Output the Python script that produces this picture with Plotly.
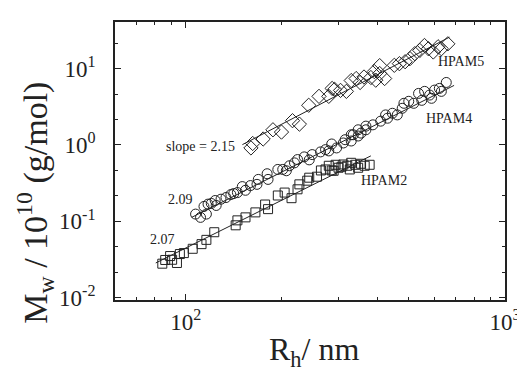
import math
import plotly.graph_objects as go

# ---------------- data ----------------
hpam5_rh = [160, 162, 174.7, 187.5, 199.4, 215.9, 226.9, 242.7, 261.4, 280.5, 287.4, 292.6,
            305.3, 318.5, 329.8, 341.7, 351.6, 361.6, 380, 389.4, 393.6, 405, 405, 419.6,
            450, 466.8, 486.5, 503.9, 521.9, 540.9, 559.3, 575.4, 596, 617, 631.8, 662]
hpam5_mw = [0.914, 1.046, 1.197, 1.58, 1.475, 2.08, 1.874, 3.31, 4.33, 4.33, 5.5, 5.34,
            5.18, 5.03, 6.98, 7.41, 6.58, 7.76, 7.64, 9.14, 7.05, 10.94, 8.61, 7.41,
            11.04, 11.6, 12.3, 13.5, 15.7, 17.3, 20.07, 18.2, 16.5, 19.3, 18.2, 21.1]

hpam4_rh = [107.3, 111.2, 116, 114, 117.4, 120.2, 123.6, 124.5, 128.9, 133.6, 138.4, 141.3,
            145.1, 150.3, 153.8, 159.4, 167.1, 168.7, 179.8, 181.0, 194.2, 201.2, 206.5,
            211.2, 219, 223.9, 235, 243.6, 248.8, 264.3, 274, 280.5, 286.5, 296.7, 311.6,
            315.6, 329.8, 329.8, 334.6, 346.7, 346.7, 354, 366.6, 366.6, 385.5, 407.9,
            422.6, 428.6, 443.8, 459.8, 476.4, 482.3, 499.4, 517.8, 536, 548.6, 560,
            580.6, 588.6, 601.6, 622.7, 631.8, 654.7]
hpam4_mw = [0.1244, 0.1127, 0.1244, 0.1566, 0.168, 0.1714, 0.1874, 0.1614, 0.195, 0.205,
            0.2243, 0.231, 0.238, 0.285, 0.255, 0.294, 0.305, 0.354, 0.42, 0.354, 0.478,
            0.478, 0.4596, 0.534, 0.583, 0.644, 0.698, 0.638, 0.748, 0.811, 0.869, 0.836,
            1.03, 0.914, 1.062, 1.172, 1.127, 1.36, 1.36, 1.58, 1.31, 1.43, 1.58, 1.765,
            1.835, 2.05, 2.475, 2.24, 2.60, 2.475, 3.02, 3.51, 3.73, 3.51, 4.73, 3.84,
            5.03, 4.50, 4.08, 5.23, 5.50, 5.03, 6.58]

hpam2_rh = [84.4, 86.2, 89.3, 90.6, 93.8, 95.8, 98.6, 105.1, 112, 116, 122.8, 143.3, 145.1,
            153.8, 165.2, 177.2, 181, 194.2, 204.0, 214.4, 223.9, 226.9, 240.1, 243.6,
            257.6, 265, 274, 280.5, 286.5, 290.5, 294.6, 301, 307.4, 311.6, 320.6, 326.4,
            329.8, 339.5, 346.7, 354, 363.4, 376.6]
hpam2_mw = [0.0279, 0.0312, 0.0351, 0.0314, 0.0285, 0.0373, 0.0384, 0.0437, 0.0503, 0.0572,
            0.0720, 0.0887, 0.103, 0.1127, 0.131, 0.166, 0.1445, 0.218, 0.238, 0.201,
            0.2627, 0.305, 0.3407, 0.3727, 0.384, 0.4637, 0.478, 0.534, 0.4637, 0.4596,
            0.55, 0.503, 0.518, 0.555, 0.534, 0.478, 0.584, 0.55, 0.503, 0.567, 0.534, 0.55]

# fitted lines (end points)
fit5_rh, fit5_mw = [150.4, 670], [1.01, 25.8]
fit4_rh, fit4_mw = [104.3, 692.6], [0.1127, 6.02]
fit2_rh, fit2_mw = [80.5, 380], [0.0285, 0.72]

x_tickvals = [100, 1000]
x_ticktext = ["10<sup>2</sup>", "10<sup>3</sup>"]
y_tickvals = [0.01, 0.1, 1, 10]
y_ticktext = ["10<sup>-2</sup>", "10<sup>-1</sup>", "10<sup>0</sup>", "10<sup>1</sup>"]
x_minor = [70, 80, 90, 200, 300, 400, 500, 600, 700, 800, 900]
y_minor = [0.02154, 0.04642, 0.2154, 0.4642, 2.154, 4.642, 21.54]

labels_text = ["slope = 2.15", "2.09", "2.07", "HPAM5", "HPAM4", "HPAM2"]
labels_x = [144.4, 106.6, 93.8, 609.6, 556.6, 349.5]
labels_y = [0.942, 0.193, 0.0584, 12.33, 2.24, 0.341]
labels_anchor = ["right", "right", "right", "left", "left", "left"]

x_title = "R<sub>h</sub>/ nm"
y_title = "M<sub>w</sub> / 10<sup>10</sup> (g/mol)"

# ---------------- figure ----------------
FONT = "Liberation Serif, Times New Roman, serif"
INK = "#222"
fig = go.Figure()

fig.add_trace(go.Scatter(x=hpam5_rh, y=hpam5_mw, mode="markers",
                         marker=dict(symbol="diamond-open", size=11, color=INK,
                                     line=dict(width=1)), showlegend=False))
fig.add_trace(go.Scatter(x=hpam4_rh, y=hpam4_mw, mode="markers",
                         marker=dict(symbol="circle-open", size=10, color=INK,
                                     line=dict(width=1)), showlegend=False))
fig.add_trace(go.Scatter(x=hpam2_rh, y=hpam2_mw, mode="markers",
                         marker=dict(symbol="square-open", size=9, color=INK,
                                     line=dict(width=1)), showlegend=False))
for fx, fy in [(fit5_rh, fit5_mw), (fit4_rh, fit4_mw), (fit2_rh, fit2_mw)]:
    fig.add_trace(go.Scatter(x=fx, y=fy, mode="lines",
                             line=dict(color=INK, width=1), showlegend=False))

for t, x, y, a in zip(labels_text, labels_x, labels_y, labels_anchor):
    fig.add_annotation(x=math.log10(x), y=math.log10(y), xref="x", yref="y", text=t,
                       showarrow=False, xanchor=a, yanchor="middle",
                       font=dict(family=FONT, size=14, color=INK))

# axis titles (y title sits lower than centre, as in the reference)
fig.add_annotation(x=-0.205, y=0.35, xref="paper", yref="paper", text=y_title,
                   textangle=-90, showarrow=False, xanchor="center", yanchor="middle",
                   font=dict(family=FONT, size=34, color=INK))
fig.add_annotation(x=0.51, y=-0.186, xref="paper", yref="paper", text=x_title,
                   showarrow=False, xanchor="center", yanchor="middle",
                   font=dict(family=FONT, size=32, color=INK))

axis_common = dict(type="log", showgrid=False, zeroline=False, showline=True,
                   linecolor=INK, linewidth=1.8, mirror="allticks",
                   ticks="inside", ticklen=6, tickwidth=1.3, tickcolor=INK,
                   tickmode="array",
                   tickfont=dict(family=FONT, size=23, color=INK))

fig.update_xaxes(**axis_common, range=[math.log10(60), 3],
                 tickvals=x_tickvals, ticktext=x_ticktext,
                 minor=dict(ticks="inside", ticklen=3.5, tickwidth=1.2, tickcolor=INK,
                            tickmode="array", tickvals=x_minor, showgrid=False))
fig.update_yaxes(**axis_common, range=[-2.03, 1.61], ticklabelstandoff=13,
                 tickvals=y_tickvals, ticktext=y_ticktext,
                 minor=dict(ticks="inside", ticklen=3.5, tickwidth=1.2, tickcolor=INK,
                            tickmode="array", tickvals=y_minor, showgrid=False))

fig.update_layout(width=525, height=367, margin=dict(l=107, r=19, t=13, b=75),
                  plot_bgcolor="white", paper_bgcolor="white")

fig.write_html("out.html")
